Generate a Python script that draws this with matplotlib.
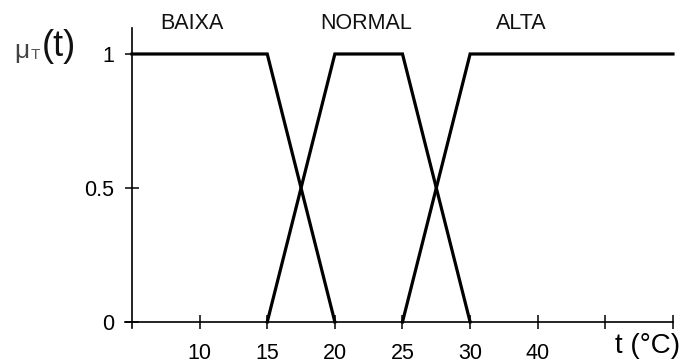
import matplotlib
matplotlib.use("Agg")
import matplotlib.pyplot as plt

plt.rcParams['font.family'] = ['Liberation Sans', 'DejaVu Sans']

# fuzzy sets for temperature t (degrees C)
baixa_x = [5, 15, 20]
baixa_y = [1, 1, 0]
normal_x = [15, 20, 25, 30]
normal_y = [0, 1, 1, 0]
alta_x = [25, 30, 45]
alta_y = [0, 1, 1]

set_names = ['BAIXA', 'NORMAL', 'ALTA']
set_label_x = [9.4, 22.3, 33.8]

xtick_pos = [10, 15, 20, 25, 30, 35, 40, 45]
xtick_labels = ['10', '15', '20', '25', '30', '40', '', '']
ytick_pos = [0, 0.5, 1]
ytick_labels = ['0', '0.5', '1']

fig = plt.figure(figsize=(6.98, 3.64), dpi=100)
ax = fig.add_axes([0, 0, 1, 1])
ax.set_xlim(-4.76, 46.85)
ax.set_ylim(-0.157, 1.2015)

for xs, ys in [(baixa_x, baixa_y), (normal_x, normal_y), (alta_x, alta_y)]:
    ax.plot(xs, ys, color='black', lw=2.3, solid_joinstyle='miter')

for name, x in zip(set_names, set_label_x):
    ax.text(x, 1.115, name, ha='center', va='center', fontsize=15.5, color='#111111')

# axes crossing at (5, 0)
ax.spines['left'].set_position(('data', 5))
ax.spines['bottom'].set_position(('data', 0))
ax.spines['right'].set_visible(False)
ax.spines['top'].set_visible(False)
ax.spines['left'].set_bounds(-0.022, 1.097)
ax.spines['bottom'].set_bounds(4.45, 45)
for s in ('left', 'bottom'):
    ax.spines[s].set_linewidth(1.2)

ax.set_xticks(xtick_pos, xtick_labels)
ax.set_yticks(ytick_pos, ytick_labels)
ax.tick_params(direction='inout', length=10, width=1.1, labelsize=15.5, colors='black')
ax.tick_params(axis='x', pad=10)
ax.tick_params(axis='y', pad=8)

# axis titles
fig.text(14 / 698, 1 - 51 / 364, 'μ', fontsize=19, color='#444444', ha='left', va='center')
fig.text(31 / 698, 1 - 55 / 364, 'T', fontsize=11, color='#555555', ha='left', va='center')
fig.text(42 / 698, 1 - 46 / 364, '(t)', fontsize=26, color='#111111', ha='left', va='center')
fig.text(615 / 698, 1 - 346 / 364, 't (°C)', fontsize=20, ha='left', va='center')

fig.savefig('out.png', dpi=100)
